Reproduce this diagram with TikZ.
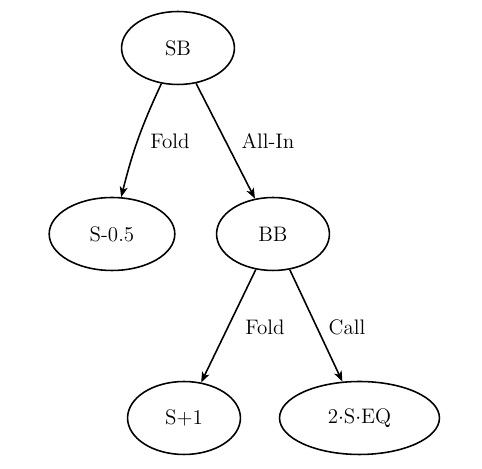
\documentclass[tikz,border=0pt]{standalone}
\usetikzlibrary{shapes.geometric,arrows.meta}
\begin{document}
\begin{tikzpicture}[x=0.5715pt,y=-0.5715pt,font=\fontsize{12}{14}\selectfont,
  state/.style={draw,ellipse,line width=0.9pt,minimum width=64.5pt,minimum height=41.7pt,inner sep=0pt},
  edgearrow/.style={line width=0.9pt,-{Stealth[length=6pt,width=4.6pt,inset=1.6pt]}},
  lbl/.style={inner sep=0pt}]
\useasboundingbox (0,0) rectangle (482,469);
\node[state] (sb) at (178,48) {SB};
\node[state,minimum width=71.8pt] (s05) at (112,234) {S-0.5};
\node[state] (bb) at (273,234) {BB};
\node[state] (s1) at (184,418) {S+1};
\node[state,minimum width=91.4pt] (eq) at (359.5,418) {2$\cdot$S$\cdot$EQ};
\draw[edgearrow] (sb) to[out=-115,in=76] (s05);
\draw[edgearrow] (sb) -- (bb);
\draw[edgearrow] (bb) -- (s1);
\draw[edgearrow] (bb) -- (eq);
\node[lbl] (l1) at (170,141) {Fold};
\node[lbl] (l2) at (268,141) {All-In};
\node[lbl] (l3) at (265,327) {Fold};
\node[lbl] (l4) at (347,327) {Call};
\end{tikzpicture}
\end{document}
